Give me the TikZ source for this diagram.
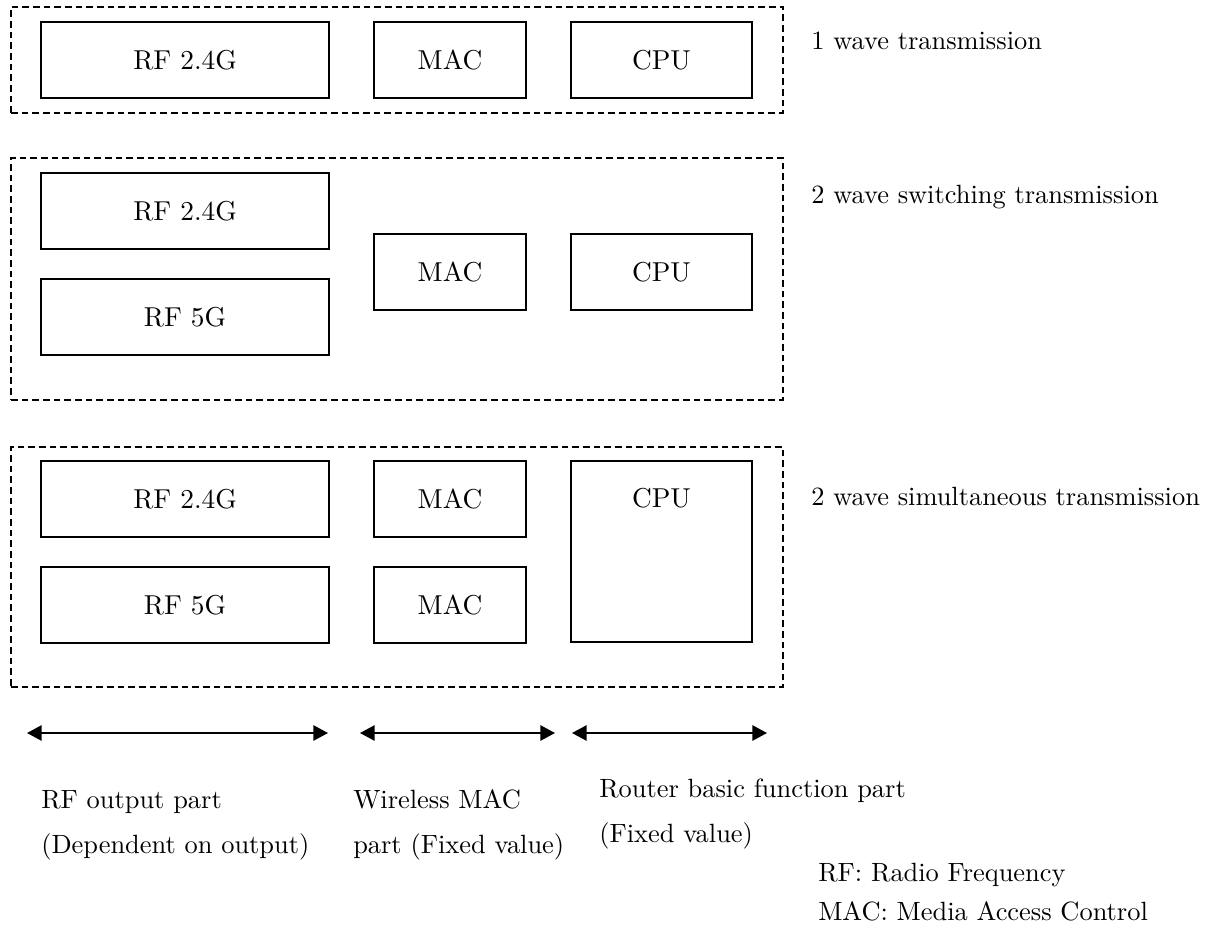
\documentclass[tikz,border=0pt]{standalone}
\usepackage{fontspec}
\setmainfont{lmroman10-regular}[Extension=.otf]
\usetikzlibrary{arrows.meta}
\begin{document}
\begin{tikzpicture}[x=0.75pt, y=-0.75pt,
    every node/.style={font=\fontsize{20.5}{24}\selectfont},
    box/.style={draw, line width=0.9pt, inner sep=0pt, minimum height=57pt},
    rfbox/.style={box, minimum width=216pt},
    macbox/.style={box, minimum width=114pt},
    cpubox/.style={box, minimum width=135.75pt},
    group/.style={draw, line width=0.8pt, dash pattern=on 5pt off 3pt, inner sep=0pt, minimum width=579pt},
    caption/.style={anchor=base west, inner sep=0pt, font=\fontsize{19.8}{24}\selectfont},
    span/.style={line width=1.3pt, {Triangle[length=11pt,width=11.5pt]}-{Triangle[length=11pt,width=11.5pt]}}]
\useasboundingbox (0,0) rectangle (1213,931);

% --- single band ---
\node (g1) [group, minimum height=79.5pt] at (397,60) {};
\node (g1rf)  [rfbox]  at (185,60)   {RF 2.4G};
\node (g1mac) [macbox] at (450,60)   {MAC};
\node (g1cpu) [cpubox] at (661.5,60) {CPU};
\node (t1) [caption] at (811,50) {1 wave transmission};

% --- dual band, switched ---
\node (g2) [group, minimum height=181.5pt] at (397,279) {};
\node (g2rfa) [rfbox]  at (185,211)   {RF 2.4G};
\node (g2rfb) [rfbox]  at (185,317)   {RF 5G};
\node (g2mac) [macbox] at (450,272)   {MAC};
\node (g2cpu) [cpubox] at (661.5,272) {CPU};
\node (t2) [caption] at (811,203) {2 wave switching transmission};

% --- dual band, simultaneous ---
\node (g3) [group, minimum height=180pt] at (397,567) {};
\node (g3rfa)  [rfbox]  at (185,499) {RF 2.4G};
\node (g3rfb)  [rfbox]  at (185,605) {RF 5G};
\node (g3maca) [macbox] at (450,499) {MAC};
\node (g3macb) [macbox] at (450,605) {MAC};
\node (g3cpu)  [cpubox, minimum height=135.75pt] at (661.5,551.5) {};
\node (g3cpulabel) at ([yshift=-28.5pt]g3cpu.north) {CPU};
\node (t3) [caption] at (811,505) {2 wave simultaneous transmission};

% --- extent of each functional part ---
\coordinate (s1l) at (27,733);  \coordinate (s1r) at (328,733);
\coordinate (s2l) at (360,733); \coordinate (s2r) at (555,733);
\coordinate (s3l) at (572,733); \coordinate (s3r) at (767,733);
\draw[span] (s1l) -- (s1r);
\draw[span] (s2l) -- (s2r);
\draw[span] (s3l) -- (s3r);

\node (p1a) [caption] at (41,808)  {RF output part};
\node (p1b) [caption] at (41,853)  {(Dependent on output)};
\node (p2a) [caption] at (353,808) {Wireless MAC};
\node (p2b) [caption] at (353,853) {part (Fixed value)};
\node (p3a) [caption] at (599,797) {Router basic function part};
\node (p3b) [caption] at (599,842) {(Fixed value)};

% --- abbreviations ---
\node (k1) [caption] at (818,881) {RF: Radio Frequency};
\node (k2) [caption] at (818,920) {MAC: Media Access Control};
\end{tikzpicture}
\end{document}
